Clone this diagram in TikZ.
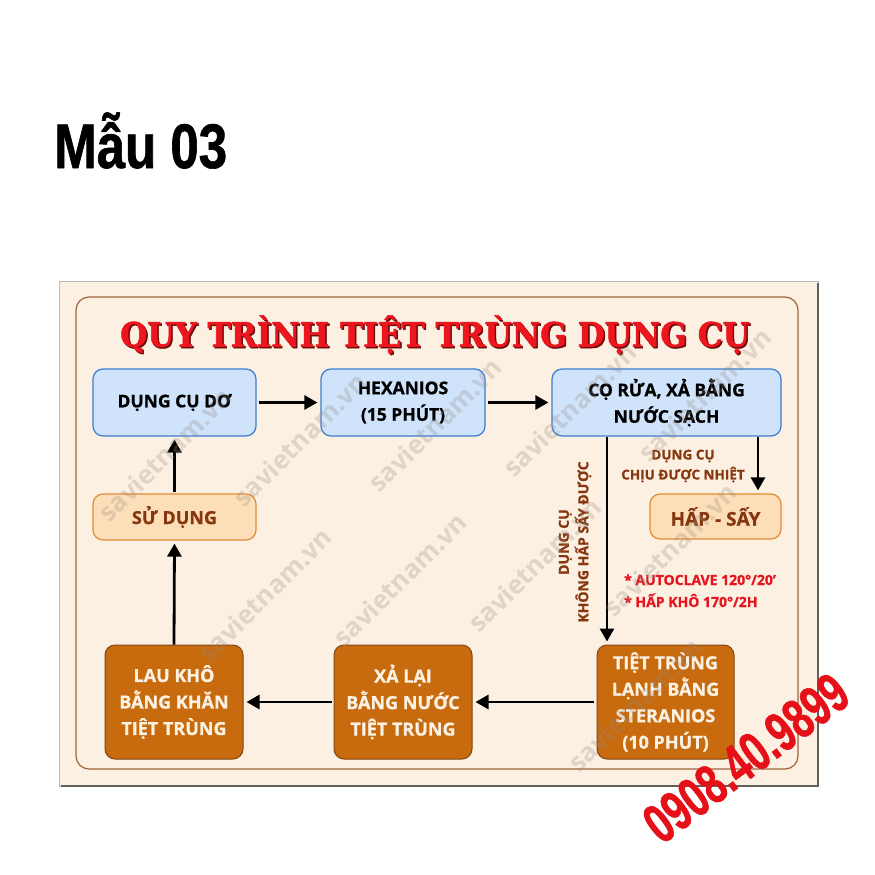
\documentclass[tikz,border=0pt]{standalone}
\usepackage{fontspec}
\setmainfont{Open Sans}[FakeBold=0.8]
\newfontfamily\titlefont{DejaVu Serif}[FakeStretch=0.93,FakeBold=1.6]
\newfontfamily\headfont{Liberation Sans}[FakeStretch=0.81,FakeBold=1]
\newfontfamily\phonefont{Liberation Sans}[FakeStretch=0.7,FakeBold=1]
\newfontfamily\wmfont{Open Sans}
\usetikzlibrary{arrows.meta}
\definecolor{bg}{RGB}{252,240,226}
\definecolor{bluefill}{RGB}{207,227,250}
\definecolor{blueline}{RGB}{60,125,210}
\definecolor{lightor}{RGB}{252,222,184}
\definecolor{orline}{RGB}{226,140,52}
\definecolor{browntxt}{RGB}{135,55,15}
\definecolor{darkbox}{RGB}{200,106,14}
\definecolor{darkline}{RGB}{130,70,20}
\definecolor{boxtxt}{RGB}{252,242,228}
\definecolor{titlered}{RGB}{236,22,30}
\definecolor{titleshadow}{RGB}{110,10,10}
\definecolor{phonered}{RGB}{230,16,24}
\definecolor{framebr}{RGB}{160,100,60}
\definecolor{wm}{RGB}{150,140,130}
\definecolor{notered}{RGB}{230,20,30}
\begin{document}
\begin{tikzpicture}[x=1pt,y=-1pt,
  bluebox/.style={draw=blueline,fill=bluefill,line width=1.2pt,rounded corners=10pt,
    minimum height=67pt,align=center,text=black,inner sep=0pt,
    font=\bfseries\fontsize{17.5}{26.5}\selectfont},
  lightbox/.style={draw=orline,fill=lightor,line width=1.2pt,rounded corners=10pt,
    minimum height=46pt,align=center,text=browntxt,inner sep=0pt,
    font=\bfseries\fontsize{18}{26}\selectfont},
  darkbox/.style={draw=darkline,fill=darkbox,line width=1pt,rounded corners=10pt,
    minimum width=138pt,minimum height=114pt,align=center,text=boxtxt,inner sep=0pt,
    font=\bfseries\fontsize{18}{26.5}\selectfont},
  arr/.style={draw=black,line width=2.8pt,-{Triangle[length=13pt,width=14pt]},
    shorten >=3pt},
  smalllbl/.style={text=browntxt,align=center,inner sep=0pt,
    font=\bfseries\fontsize{13.5}{20}\selectfont},
  note/.style={text=notered,inner sep=0pt,font=\bfseries\fontsize{14}{16}\selectfont},
  wmark/.style={text=wm,opacity=0.28,rotate=45,inner sep=0pt,
    font=\wmfont\bfseries\fontsize{26}{26}\selectfont}
]
\useasboundingbox (0,0) rectangle (875,875);
\fill[white] (0,0) rectangle (875,875);

% heading
\node[anchor=base west,inner sep=0pt,font=\headfont\bfseries\fontsize{63}{63}\selectfont]
  (head) at (54,168) {Mẫu 03};

% poster frame
\fill[bg] (59,281) rectangle (818,786);
\draw[gray!55,line width=1pt] (59,281) rectangle (818,786);
\draw[gray!75!black,line width=2.2pt] (818,283) -- (818,786) -- (61,786);
\draw[framebr,line width=1.2pt,rounded corners=13pt] (76,297) rectangle (798,769);

% title
\node[anchor=base,inner sep=0pt,text=titleshadow,
  font=\titlefont\bfseries\fontsize{33.5}{33.5}\selectfont] (titleshd) at (436.5,348)
  {QUY TRÌNH TIỆT TRÙNG DỤNG CỤ};
\node[anchor=base,inner sep=0pt,text=titlered,
  font=\titlefont\bfseries\fontsize{33.5}{33.5}\selectfont] (title) at (435,346.5)
  {QUY TRÌNH TIỆT TRÙNG DỤNG CỤ};

% boxes
\node[bluebox,minimum width=163pt] (b1) at (174.5,402.5) {DỤNG CỤ DƠ};
\node[bluebox,minimum width=164pt] (b2) at (403,402.5) {HEXANIOS\\(15 PHÚT)};
\node[bluebox,minimum width=229pt] (b3) at (666.5,402.5) {CỌ RỬA, XẢ BẰNG\\NƯỚC SẠCH};
\node[lightbox,minimum width=131pt,minimum height=45pt,
  font=\bfseries\fontsize{19}{26}\selectfont] (hs) at (715.5,516.5) {HẤP - SẤY};
\node[lightbox,minimum width=163pt] (su) at (174.5,517) {SỬ DỤNG};
\node[darkbox] (lk) at (174,702) {LAU KHÔ\\BẰNG KHĂN\\TIỆT TRÙNG};
\node[darkbox] (xl) at (403,702) {XẢ LẠI\\BẰNG NƯỚC\\TIỆT TRÙNG};
\node[darkbox,minimum width=137pt] (tt) at (665.5,702) {TIỆT TRÙNG\\LẠNH BẰNG\\STERANIOS\\(10 PHÚT)};

% labels
\node[smalllbl] (lblhot) at (683,466) {DỤNG CỤ\\CHỊU ĐƯỢC NHIỆT};
\node[smalllbl,rotate=90,font=\bfseries\fontsize{14}{19.5}\selectfont] (lblcold) at (575,542)
  {DỤNG CỤ\\KHÔNG HẤP SẤY ĐƯỢC};
\node[note,anchor=base west] (note1) at (624,585) {* AUTOCLAVE 120°/20’};
\node[note,anchor=base west] (note2) at (624,607) {* HẤP KHÔ 170°/2H};

% connectors
\coordinate (hsin) at ([xshift=42.5pt]hs.north);
\coordinate (ttin) at ([xshift=-58.5pt]tt.north);
\draw[arr,shorten <=2pt] (b1.east) -- (b2.west);
\draw[arr,shorten <=2pt] (b2.east) -- (b3.west);
\draw[arr] (b3.south -| hsin) -- (hsin);
\draw[arr] (b3.south -| ttin) -- (ttin);
\draw[arr,shorten <=3pt] (tt.west) -- (xl.east);
\draw[arr,shorten <=2pt] (xl.west) -- (lk.east);
\draw[arr] (lk.north) -- (su.south);
\draw[arr,shorten <=1pt] (su.north) -- (b1.south);

% watermark (only whole copies inside the poster)
\foreach \k in {-3,...,9}{
  \foreach \m in {0,...,5}{
    \pgfmathsetmacro{\cc}{620+120*\k}
    \pgfmathsetmacro{\dd}{mod(50+150*\k+3400,340)-1020+340*\m}
    \pgfmathsetmacro{\xx}{(\cc+\dd)/2}
    \pgfmathsetmacro{\yy}{(\cc-\dd)/2}
    \pgfmathtruncatemacro{\inside}{and(and(\xx>135,\xx<745),and(\yy>355,\yy<712))}
    \ifnum\inside=1
      \node[wmark] (wm\k m\m) at (\xx,\yy) {savietnam.vn};
    \fi
  }
}

% phone
\node[text=phonered,rotate=37,inner sep=0pt,
  font=\phonefont\bfseries\fontsize{56}{56}\selectfont] (phone) at (746,758) {0908.40.9899};
\end{tikzpicture}
\end{document}
